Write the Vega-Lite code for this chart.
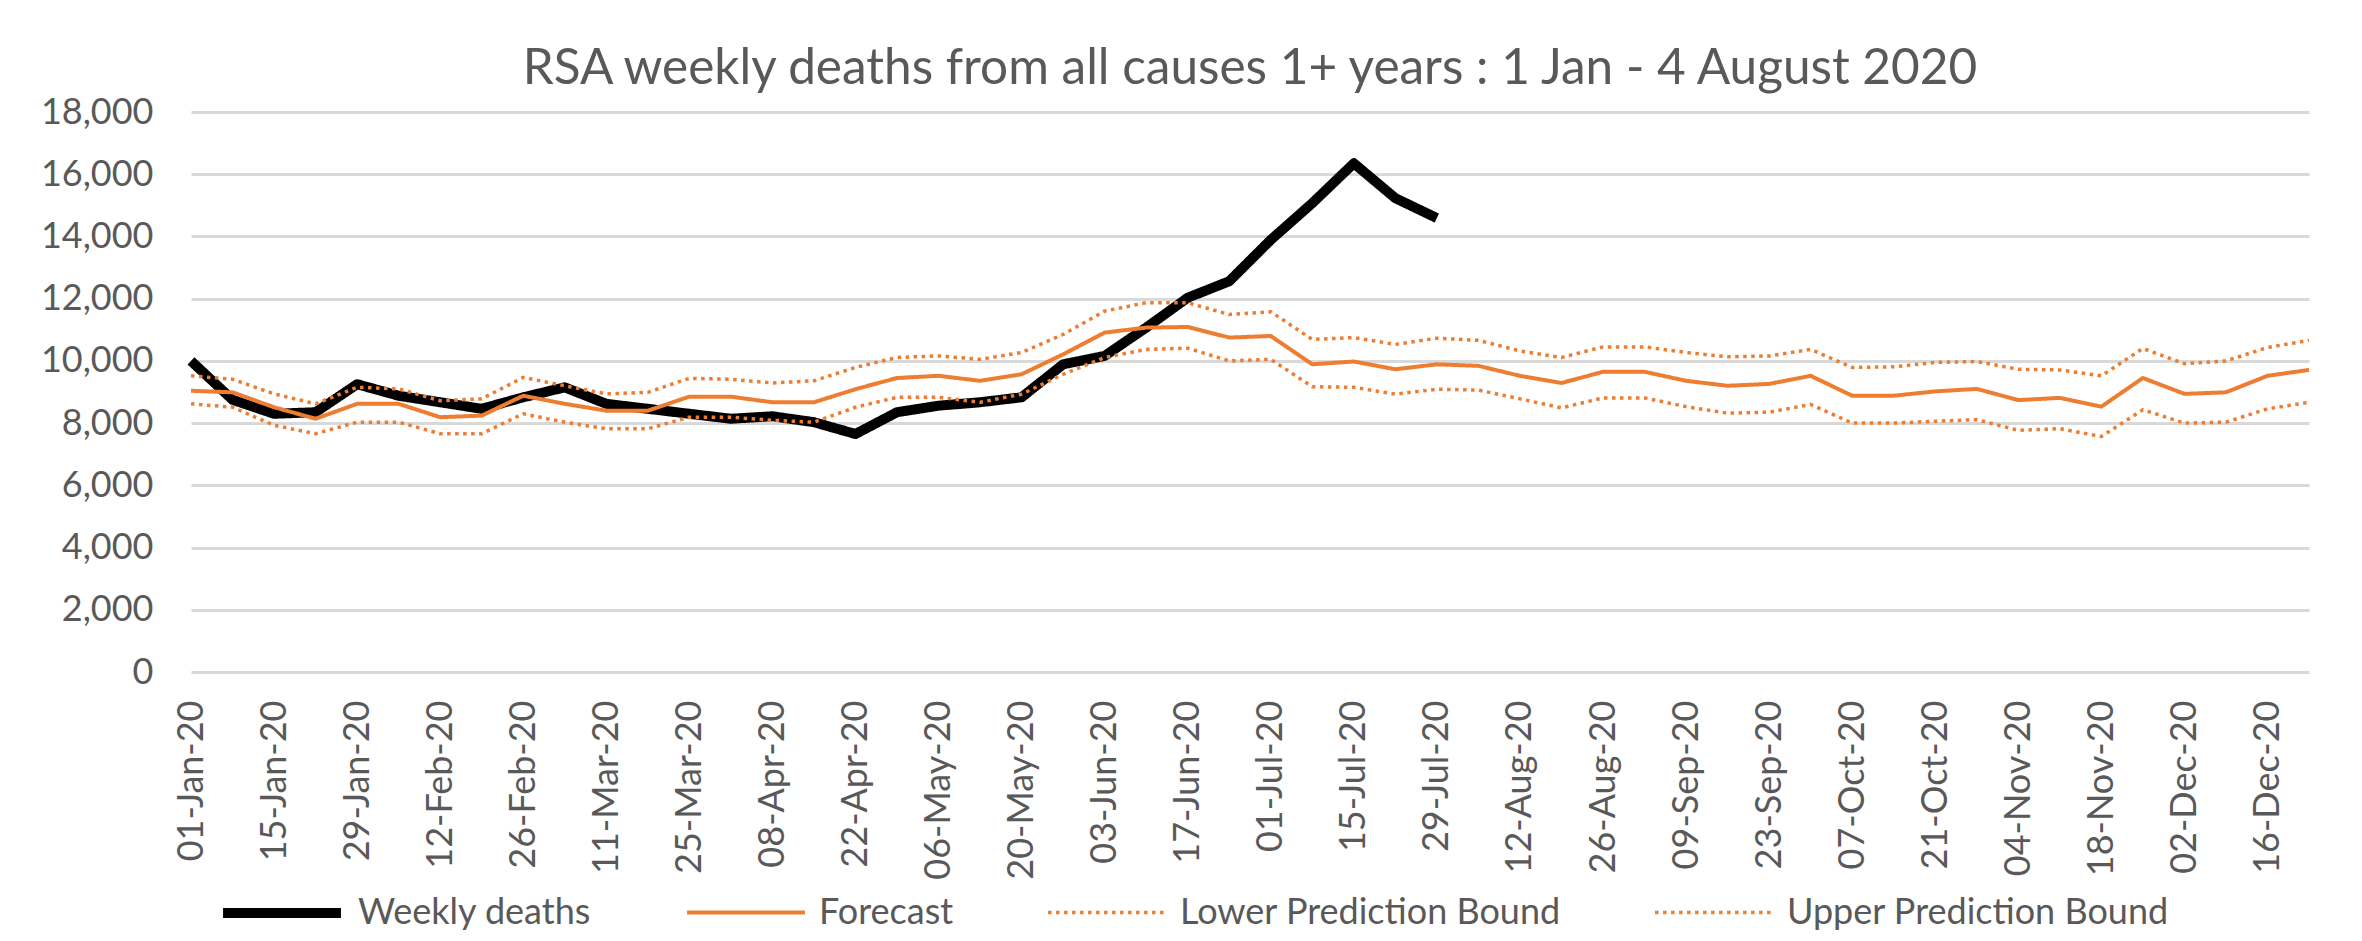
{
  "$schema": "https://vega.github.io/schema/vega-lite/v6.json",
  "width": 2118,
  "height": 560,
  "autosize": {"type": "none"},
  "padding": {"left": 191, "top": 112, "right": 53, "bottom": 269},
  "background": "white",
  "title": {
    "text": "RSA weekly deaths from all causes 1+ years : 1 Jan - 4 August 2020",
    "font": "Lato",
    "fontSize": 49.5,
    "fontWeight": "normal",
    "color": "#595959",
    "anchor": "middle",
    "offset": 0
  },
  "data": {
    "values": [
      {"week": "01-Jan-20", "deaths": 10000, "forecast": 9040, "lower": 8620, "upper": 9520},
      {"week": "08-Jan-20", "deaths": 8750, "forecast": 8990, "lower": 8510, "upper": 9410},
      {"week": "15-Jan-20", "deaths": 8300, "forecast": 8510, "lower": 7930, "upper": 8940},
      {"week": "22-Jan-20", "deaths": 8350, "forecast": 8140, "lower": 7660, "upper": 8620},
      {"week": "29-Jan-20", "deaths": 9250, "forecast": 8620, "lower": 8030, "upper": 9150},
      {"week": "05-Feb-20", "deaths": 8880, "forecast": 8620, "lower": 8030, "upper": 9100},
      {"week": "12-Feb-20", "deaths": 8670, "forecast": 8190, "lower": 7660, "upper": 8720},
      {"week": "19-Feb-20", "deaths": 8460, "forecast": 8240, "lower": 7660, "upper": 8780},
      {"week": "26-Feb-20", "deaths": 8830, "forecast": 8880, "lower": 8300, "upper": 9470},
      {"week": "04-Mar-20", "deaths": 9150, "forecast": 8620, "lower": 8030, "upper": 9200},
      {"week": "11-Mar-20", "deaths": 8620, "forecast": 8400, "lower": 7820, "upper": 8940},
      {"week": "18-Mar-20", "deaths": 8460, "forecast": 8400, "lower": 7820, "upper": 8990},
      {"week": "25-Mar-20", "deaths": 8300, "forecast": 8850, "lower": 8190, "upper": 9440},
      {"week": "01-Apr-20", "deaths": 8140, "forecast": 8850, "lower": 8190, "upper": 9410},
      {"week": "08-Apr-20", "deaths": 8220, "forecast": 8670, "lower": 8090, "upper": 9290},
      {"week": "15-Apr-20", "deaths": 8030, "forecast": 8670, "lower": 8030, "upper": 9360},
      {"week": "22-Apr-20", "deaths": 7650, "forecast": 9090, "lower": 8510, "upper": 9790},
      {"week": "29-Apr-20", "deaths": 8350, "forecast": 9450, "lower": 8830, "upper": 10110},
      {"week": "06-May-20", "deaths": 8560, "forecast": 9520, "lower": 8830, "upper": 10160},
      {"week": "13-May-20", "deaths": 8670, "forecast": 9360, "lower": 8670, "upper": 10050},
      {"week": "20-May-20", "deaths": 8830, "forecast": 9570, "lower": 8930, "upper": 10270},
      {"week": "27-May-20", "deaths": 9890, "forecast": 10210, "lower": 9570, "upper": 10850},
      {"week": "03-Jun-20", "deaths": 10160, "forecast": 10910, "lower": 10110, "upper": 11600},
      {"week": "10-Jun-20", "deaths": 11070, "forecast": 11070, "lower": 10370, "upper": 11870},
      {"week": "17-Jun-20", "deaths": 12030, "forecast": 11090, "lower": 10410, "upper": 11870},
      {"week": "24-Jun-20", "deaths": 12560, "forecast": 10750, "lower": 10000, "upper": 11490},
      {"week": "01-Jul-20", "deaths": 13890, "forecast": 10800, "lower": 10050, "upper": 11580},
      {"week": "08-Jul-20", "deaths": 15070, "forecast": 9890, "lower": 9170, "upper": 10690},
      {"week": "15-Jul-20", "deaths": 16350, "forecast": 9980, "lower": 9150, "upper": 10750},
      {"week": "22-Jul-20", "deaths": 15230, "forecast": 9730, "lower": 8930, "upper": 10530},
      {"week": "29-Jul-20", "deaths": 14590, "forecast": 9890, "lower": 9090, "upper": 10730},
      {"week": "05-Aug-20", "forecast": 9840, "lower": 9060, "upper": 10660},
      {"week": "12-Aug-20", "forecast": 9520, "lower": 8780, "upper": 10320},
      {"week": "19-Aug-20", "forecast": 9290, "lower": 8490, "upper": 10110},
      {"week": "26-Aug-20", "forecast": 9650, "lower": 8810, "upper": 10450},
      {"week": "02-Sep-20", "forecast": 9650, "lower": 8810, "upper": 10450},
      {"week": "09-Sep-20", "forecast": 9360, "lower": 8530, "upper": 10270},
      {"week": "16-Sep-20", "forecast": 9200, "lower": 8320, "upper": 10130},
      {"week": "23-Sep-20", "forecast": 9260, "lower": 8350, "upper": 10160},
      {"week": "30-Sep-20", "forecast": 9520, "lower": 8600, "upper": 10370},
      {"week": "07-Oct-20", "forecast": 8880, "lower": 8000, "upper": 9790},
      {"week": "14-Oct-20", "forecast": 8880, "lower": 8000, "upper": 9810},
      {"week": "21-Oct-20", "forecast": 9020, "lower": 8060, "upper": 9950},
      {"week": "28-Oct-20", "forecast": 9100, "lower": 8110, "upper": 9980},
      {"week": "04-Nov-20", "forecast": 8740, "lower": 7770, "upper": 9730},
      {"week": "11-Nov-20", "forecast": 8810, "lower": 7820, "upper": 9710},
      {"week": "18-Nov-20", "forecast": 8530, "lower": 7570, "upper": 9520},
      {"week": "25-Nov-20", "forecast": 9450, "lower": 8430, "upper": 10400},
      {"week": "02-Dec-20", "forecast": 8940, "lower": 8000, "upper": 9910},
      {"week": "09-Dec-20", "forecast": 8990, "lower": 8030, "upper": 10000},
      {"week": "16-Dec-20", "forecast": 9520, "lower": 8460, "upper": 10430},
      {"week": "23-Dec-20", "forecast": 9710, "lower": 8670, "upper": 10660}
    ]
  },
  "transform": [
    {"fold": ["deaths", "forecast", "lower", "upper"], "as": ["series", "value"]}
  ],
  "mark": {"type": "line", "strokeJoin": "round"},
  "encoding": {
    "x": {
      "field": "week",
      "type": "ordinal",
      "sort": null,
      "scale": {"type": "point", "padding": 0},
      "axis": {
        "title": null,
        "values": ["01-Jan-20", "15-Jan-20", "29-Jan-20", "12-Feb-20", "26-Feb-20", "11-Mar-20", "25-Mar-20", "08-Apr-20", "22-Apr-20", "06-May-20", "20-May-20", "03-Jun-20", "17-Jun-20", "01-Jul-20", "15-Jul-20", "29-Jul-20", "12-Aug-20", "26-Aug-20", "09-Sep-20", "23-Sep-20", "07-Oct-20", "21-Oct-20", "04-Nov-20", "18-Nov-20", "02-Dec-20", "16-Dec-20"],
        "labelAngle": -90,
        "labelFont": "Lato",
        "labelFontSize": 36,
        "labelColor": "#595959",
        "labelPadding": 28,
        "ticks": false,
        "tickSize": 0,
        "domain": false,
        "grid": false
      }
    },
    "y": {
      "field": "value",
      "type": "quantitative",
      "scale": {"domain": [0, 18000], "nice": false},
      "axis": {
        "title": null,
        "values": [0, 2000, 4000, 6000, 8000, 10000, 12000, 14000, 16000, 18000],
        "format": ",.0f",
        "labelFont": "Lato",
        "labelFontSize": 36,
        "labelColor": "#595959",
        "labelPadding": 38,
        "ticks": false,
        "tickSize": 0,
        "domain": false,
        "grid": true,
        "gridColor": "#d9d9d9",
        "gridWidth": 3
      }
    },
    "color": {
      "field": "series",
      "type": "nominal",
      "scale": {"domain": ["deaths", "forecast", "lower", "upper"], "range": ["#000000", "#ED7D31", "#ED7D31", "#ED7D31"]},
      "legend": {
        "title": null,
        "orient": "bottom",
        "direction": "horizontal",
        "symbolType": "stroke",
        "symbolSize": 13900,
        "labelFont": "Lato",
        "labelFontSize": 36,
        "labelColor": "#595959",
        "labelOffset": 12,
        "labelLimit": 0,
        "columnPadding": 87,
        "padding": 27,
        "offset": -58,
        "labelExpr": "{'deaths': 'Weekly deaths', 'forecast': 'Forecast', 'lower': 'Lower Prediction Bound', 'upper': 'Upper Prediction Bound'}[datum.label]"
      }
    },
    "strokeDash": {
      "field": "series",
      "type": "nominal",
      "scale": {"domain": ["deaths", "forecast", "lower", "upper"], "range": [[1, 0], [1, 0], [3.5, 4.5], [3.5, 4.5]]},
      "legend": {
        "title": null,
        "orient": "bottom",
        "direction": "horizontal",
        "symbolType": "stroke",
        "symbolSize": 13900,
        "labelFont": "Lato",
        "labelFontSize": 36,
        "labelColor": "#595959",
        "labelOffset": 12,
        "labelLimit": 0,
        "columnPadding": 87,
        "padding": 27,
        "offset": -58,
        "labelExpr": "{'deaths': 'Weekly deaths', 'forecast': 'Forecast', 'lower': 'Lower Prediction Bound', 'upper': 'Upper Prediction Bound'}[datum.label]"
      }
    },
    "strokeWidth": {
      "field": "series",
      "type": "nominal",
      "scale": {"type": "ordinal", "domain": ["deaths", "forecast", "lower", "upper"], "range": [10, 4, 3.5, 3.5]},
      "legend": {
        "title": null,
        "orient": "bottom",
        "direction": "horizontal",
        "symbolType": "stroke",
        "symbolSize": 13900,
        "labelFont": "Lato",
        "labelFontSize": 36,
        "labelColor": "#595959",
        "labelOffset": 12,
        "labelLimit": 0,
        "columnPadding": 87,
        "padding": 27,
        "offset": -58,
        "labelExpr": "{'deaths': 'Weekly deaths', 'forecast': 'Forecast', 'lower': 'Lower Prediction Bound', 'upper': 'Upper Prediction Bound'}[datum.label]"
      }
    }
  },
  "config": {
    "view": {"stroke": null},
    "font": "Lato"
  }
}
